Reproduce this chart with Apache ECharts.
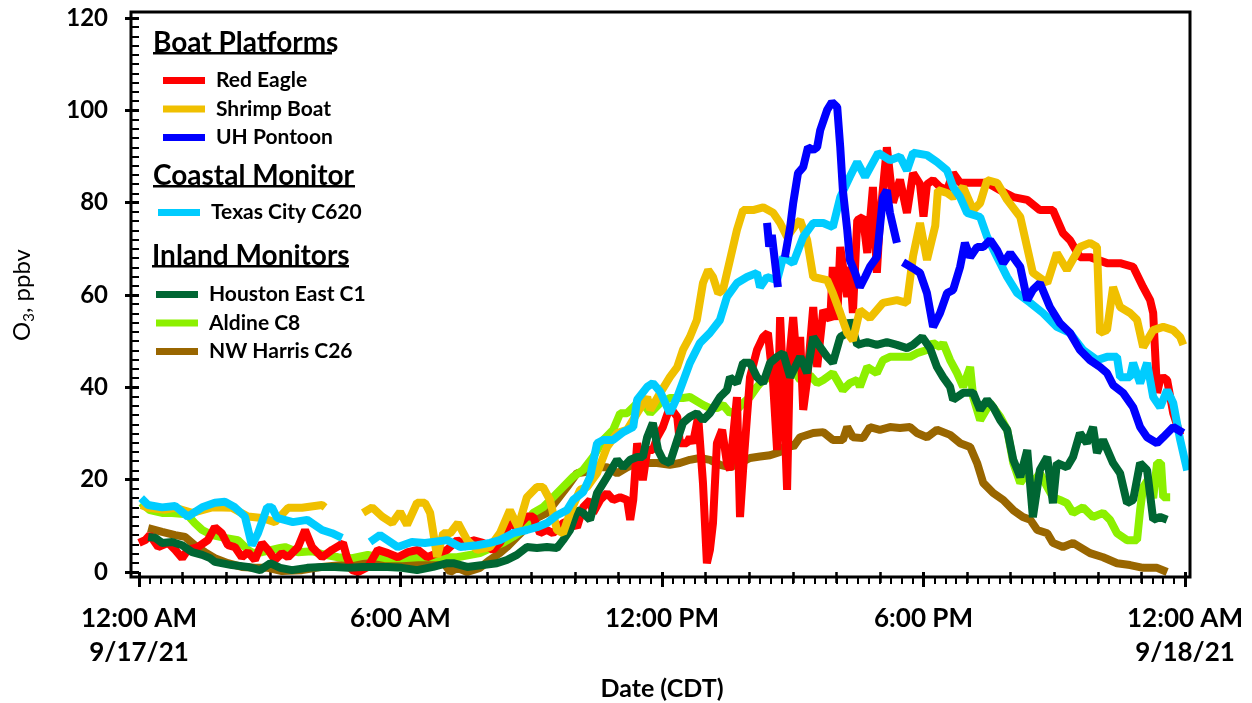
<!DOCTYPE html>
<html><head><meta charset="utf-8">
<script src="https://cdn.jsdelivr.net/npm/echarts@6/dist/echarts.min.js"></script>
<style>html,body{margin:0;padding:0;background:#fff}#chart{width:1252px;height:703px}</style>
</head><body><div id="chart"></div>
<script>
// x: hours after 12:00 AM 9/17/21 (CDT), y: O3 ppbv
const xTickLabels = ['12:00 AM\n9/17/21', '6:00 AM', '12:00 PM', '6:00 PM', '12:00 AM\n9/18/21'];
const groupTitles = ['Boat Platforms', 'Coastal Monitor', 'Inland Monitors'];
const boatNames = ['Red Eagle', 'Shrimp Boat', 'UH Pontoon'];
const coastalNames = ['Texas City C620'];
const inlandNames = ['Houston East C1', 'Aldine C8', 'NW Harris C26'];

const redEagle = [[0.0,6.3],[0.14,6.9],[0.25,8.0],[0.44,5.4],[0.67,6.3],[0.83,4.8],[0.99,3.0],[1.12,4.8],[1.35,5.4],[1.58,6.9],[1.74,9.7],[1.9,8.4],[2.04,5.8],[2.2,5.4],[2.36,3.2],[2.5,4.3],[2.66,2.6],[2.82,6.3],[2.96,4.8],[3.12,2.6],[3.28,4.1],[3.42,3.2],[3.65,5.4],[3.81,9.1],[3.97,5.4],[4.2,3.2],[4.43,4.8],[4.61,5.8],[4.68,6.3],[4.77,3.2],[4.89,0.4],[5.03,0.0],[5.25,1.1],[5.48,4.8],[5.71,4.1],[5.94,3.2],[6.17,4.3],[6.4,4.8],[6.61,3.2],[6.84,4.1],[7.07,4.8],[7.3,6.9],[7.53,5.4],[7.66,6.9],[7.89,6.3],[8.12,4.8],[8.28,6.3],[8.51,10.6],[8.67,9.7],[8.9,12.0],[9.04,12.0],[9.2,8.4],[9.36,9.1],[9.5,8.4],[9.73,10.6],[9.89,11.3],[10.05,9.7],[10.19,14.0],[10.35,15.6],[10.42,12.8],[10.58,15.6],[10.74,17.1],[10.88,15.6],[11.04,16.2],[11.2,15.6],[11.27,11.3],[11.34,15.6],[11.43,27.9],[11.56,19.9],[11.66,26.4],[11.79,26.4],[11.89,29.2],[12.02,31.4],[12.18,35.7],[12.35,33.6],[12.41,27.9],[12.57,27.9],[12.64,29.2],[12.71,27.9],[12.83,33.6],[12.94,19.3],[13.03,1.9],[13.1,4.8],[13.17,10.6],[13.26,27.9],[13.38,30.8],[13.49,23.6],[13.56,22.1],[13.63,29.2],[13.72,37.9],[13.79,11.9],[13.86,22.1],[13.95,33.6],[14.02,42.2],[14.18,48.1],[14.32,50.9],[14.43,51.8],[14.55,40.9],[14.64,26.4],[14.71,55.2],[14.78,40.9],[14.87,17.8],[14.94,48.1],[15.01,55.2],[15.1,44.4],[15.17,50.9],[15.24,35.1],[15.33,41.6],[15.47,57.4],[15.56,44.4],[15.7,56.7],[15.86,54.6],[15.92,66.1],[16.02,54.6],[16.09,70.4],[16.25,59.6],[16.31,66.1],[16.38,56.1],[16.48,76.2],[16.61,76.9],[16.71,69.1],[16.84,83.4],[16.93,64.8],[17.0,76.2],[17.16,92.0],[17.3,80.0],[17.46,85.0],[17.62,77.8],[17.76,86.4],[17.92,84.0],[18.0,77.0],[18.08,84.0],[18.22,84.9],[18.38,83.4],[18.54,82.7],[18.68,86.4],[18.84,84.3],[19.14,84.3],[19.46,84.3],[19.76,82.7],[20.06,81.2],[20.38,80.6],[20.67,78.4],[20.97,78.4],[21.2,73.4],[21.36,71.9],[21.59,68.2],[21.82,68.2],[22.21,66.9],[22.51,66.9],[22.81,66.1],[23.04,61.7],[23.2,58.9],[23.27,56.1],[23.36,38.8],[23.43,41.6],[23.5,42.2],[23.59,41.6],[23.73,34.4],[23.89,29.7]];

const shrimpBoat = [[0.05,14.5],[0.21,13.9],[0.6,13.5],[0.83,13.9],[1.22,12.8],[1.68,14.0],[2.13,13.9],[2.5,12.0],[2.82,11.7],[3.12,10.8],[3.42,13.9],[3.74,13.9],[4.2,14.5],[4.27,14.0],[4.3,null],[5.14,12.8],[5.35,14.0],[5.58,12.0],[5.81,10.6],[5.99,13.0],[6.15,10.2],[6.38,15.0],[6.56,15.0],[6.68,12.8],[6.84,3.3],[6.98,8.4],[7.14,8.4],[7.32,10.6],[7.53,6.9],[7.76,4.8],[8.05,5.4],[8.28,8.4],[8.51,13.4],[8.7,9.7],[8.9,16.2],[9.13,18.4],[9.27,18.4],[9.43,15.6],[9.59,9.1],[9.73,8.4],[9.89,12.8],[10.12,17.8],[10.28,18.4],[10.51,21.4],[10.74,27.1],[10.97,30.1],[11.2,30.8],[11.43,34.4],[11.66,37.9],[11.73,35.1],[11.96,38.8],[12.18,42.2],[12.35,44.4],[12.48,48.1],[12.64,50.9],[12.8,54.6],[12.94,62.6],[13.06,65.4],[13.17,63.9],[13.29,60.4],[13.4,61.1],[13.56,67.6],[13.72,74.1],[13.86,78.4],[14.09,78.4],[14.32,79.0],[14.55,77.8],[14.71,75.6],[14.87,72.6],[15.1,75.6],[15.17,76.2],[15.33,71.9],[15.47,63.9],[15.79,63.2],[15.92,60.4],[16.09,56.1],[16.25,51.8],[16.38,50.2],[16.54,56.7],[16.77,55.0],[17.07,58.3],[17.39,58.9],[17.62,58.3],[17.76,68.4],[17.92,75.6],[18.08,67.6],[18.27,75.0],[18.33,82.7],[18.54,82.1],[18.68,81.2],[18.91,83.4],[19.14,78.4],[19.3,79.9],[19.46,84.9],[19.69,84.3],[19.92,80.6],[20.22,76.9],[20.51,64.8],[20.84,62.6],[21.06,69.1],[21.29,65.4],[21.59,70.4],[21.82,71.3],[21.98,70.4],[22.05,51.8],[22.21,52.4],[22.35,61.7],[22.51,57.4],[22.74,56.1],[22.9,54.6],[23.04,48.7],[23.27,52.4],[23.5,53.1],[23.73,52.4],[23.89,50.9],[23.96,49.2]];

const uhPontoon = [[14.41,75.6],[14.46,70.5],[14.52,73.0],[14.66,61.7],[14.74,null],[14.82,68.2],[14.94,74.7],[15.01,79.9],[15.12,86.4],[15.24,87.7],[15.35,92.0],[15.47,91.4],[15.56,92.0],[15.63,95.7],[15.79,100.1],[15.9,101.8],[16.02,100.7],[16.09,92.0],[16.15,82.7],[16.25,74.1],[16.31,67.6],[16.43,64.8],[16.54,61.7],[16.66,63.9],[16.77,66.1],[16.93,68.2],[17.0,74.7],[17.07,81.2],[17.16,82.7],[17.23,77.8],[17.39,71.3],[17.46,null],[17.53,67.1],[17.76,65.8],[17.92,64.8],[18.08,60.4],[18.22,53.1],[18.38,56.1],[18.54,60.4],[18.68,61.1],[18.84,66.1],[18.95,71.3],[19.07,68.2],[19.23,70.4],[19.37,70.4],[19.53,71.9],[19.69,69.7],[19.83,66.9],[19.99,69.1],[20.22,66.1],[20.38,58.9],[20.51,61.1],[20.67,62.6],[20.9,57.4],[21.13,53.9],[21.36,51.8],[21.59,48.1],[21.82,45.9],[22.05,44.4],[22.21,43.1],[22.35,40.5],[22.58,38.8],[22.81,35.7],[22.97,31.4],[23.13,29.2],[23.36,27.9],[23.5,29.2],[23.73,31.4],[23.96,30.1]];

const texasCity = [[0.05,16.0],[0.21,14.5],[0.53,14.0],[0.83,14.3],[1.12,12.0],[1.45,14.0],[1.74,15.0],[1.97,15.2],[2.2,14.0],[2.43,12.0],[2.59,5.8],[2.73,8.4],[2.94,14.0],[3.05,14.0],[3.17,11.7],[3.53,10.8],[3.86,11.3],[4.2,9.1],[4.43,8.4],[4.66,7.4],[4.9,null],[5.3,6.5],[5.53,8.0],[5.94,5.4],[6.26,6.5],[6.56,6.3],[7.07,6.9],[7.37,5.4],[7.76,5.8],[8.05,6.3],[8.28,6.9],[8.58,8.4],[8.9,9.1],[9.13,9.7],[9.36,10.6],[9.59,12.3],[9.82,13.4],[9.96,15.6],[10.19,17.3],[10.35,20.6],[10.51,27.9],[10.65,28.6],[10.88,28.6],[11.11,30.3],[11.34,31.4],[11.43,37.3],[11.66,40.1],[11.79,40.9],[11.96,39.0],[12.18,34.4],[12.35,37.9],[12.64,45.3],[12.87,49.6],[13.1,51.8],[13.33,54.6],[13.49,59.6],[13.72,62.6],[13.95,63.9],[14.18,64.8],[14.25,61.7],[14.41,63.9],[14.64,63.2],[14.78,68.2],[15.01,66.9],[15.24,72.6],[15.47,75.6],[15.7,75.6],[15.92,74.7],[16.09,81.2],[16.31,85.6],[16.48,88.8],[16.66,85.6],[16.96,90.8],[17.23,89.2],[17.46,90.0],[17.62,87.0],[17.76,90.8],[18.08,90.3],[18.31,88.8],[18.54,87.0],[18.68,83.4],[18.84,81.2],[19.0,77.8],[19.3,76.9],[19.46,72.6],[19.69,68.2],[19.92,63.9],[20.15,60.4],[20.45,58.3],[20.74,56.1],[21.06,53.1],[21.36,51.8],[21.66,48.1],[21.98,45.9],[22.21,46.6],[22.44,46.6],[22.51,42.2],[22.74,42.2],[22.81,45.3],[22.97,40.9],[23.13,45.3],[23.27,37.9],[23.43,35.7],[23.59,39.4],[23.73,36.6],[23.89,28.6],[24.05,22.0]];

const houstonEast = [[0.21,7.6],[0.37,7.4],[0.53,6.3],[0.76,6.5],[0.99,5.8],[1.22,4.3],[1.45,3.7],[1.63,3.0],[1.74,2.2],[2.13,1.5],[2.5,1.1],[2.78,0.4],[3.01,1.9],[3.24,0.9],[3.51,0.4],[3.86,0.9],[4.2,1.1],[4.5,1.1],[4.8,0.9],[5.12,1.1],[5.42,1.1],[5.71,1.1],[6.03,0.9],[6.38,0.4],[6.75,1.1],[7.07,1.9],[7.21,1.9],[7.53,1.1],[7.89,1.5],[8.21,1.9],[8.44,2.6],[8.67,3.7],[8.9,5.4],[9.13,5.2],[9.36,5.4],[9.59,5.2],[9.73,6.9],[9.89,9.1],[10.05,13.4],[10.19,12.8],[10.35,11.3],[10.51,17.1],[10.74,20.6],[10.97,24.3],[11.11,22.7],[11.27,24.3],[11.43,24.9],[11.56,24.9],[11.66,29.2],[11.79,32.3],[11.91,26.4],[12.02,24.3],[12.18,23.6],[12.35,28.6],[12.48,32.3],[12.64,33.6],[12.8,34.4],[12.94,32.9],[13.1,34.4],[13.33,37.9],[13.49,39.4],[13.56,42.2],[13.72,40.9],[13.86,45.3],[14.02,45.3],[14.18,42.2],[14.32,40.9],[14.48,45.3],[14.64,46.6],[14.78,47.4],[14.94,42.2],[15.17,46.6],[15.33,43.1],[15.47,50.9],[15.63,48.7],[15.79,46.6],[15.92,45.3],[16.09,50.9],[16.25,51.8],[16.31,54.6],[16.48,49.2],[16.71,49.8],[16.93,49.2],[17.16,49.8],[17.39,49.2],[17.62,48.5],[17.76,49.2],[17.97,50.9],[18.15,48.5],[18.31,44.4],[18.45,42.2],[18.61,40.1],[18.68,37.3],[18.91,38.8],[19.14,38.8],[19.3,35.1],[19.46,37.3],[19.6,35.7],[19.76,32.9],[19.92,30.8],[20.06,24.3],[20.22,20.6],[20.38,26.4],[20.51,11.9],[20.67,22.1],[20.84,24.9],[20.97,14.9],[21.06,23.6],[21.29,22.7],[21.43,24.9],[21.59,30.1],[21.75,27.9],[21.89,31.4],[21.98,25.8],[22.12,28.6],[22.35,23.6],[22.51,21.4],[22.67,14.9],[22.81,15.6],[22.97,23.6],[23.13,22.1],[23.27,11.3],[23.43,11.9],[23.59,11.3]];

const aldine = [[0.05,15.0],[0.25,13.4],[0.53,12.8],[0.76,12.8],[1.1,12.5],[1.28,10.6],[1.45,9.1],[1.68,8.0],[1.97,7.4],[2.27,6.9],[2.5,4.8],[2.62,4.1],[2.82,4.3],[3.24,5.2],[3.35,5.4],[3.65,4.3],[3.97,4.5],[4.27,3.7],[4.57,3.2],[4.89,3.0],[5.25,3.7],[5.64,3.0],[6.03,3.0],[6.4,3.2],[6.9,3.2],[7.3,3.2],[7.82,4.1],[8.12,5.4],[8.35,6.3],[8.58,7.6],[8.81,9.1],[9.04,12.8],[9.27,14.0],[9.5,16.2],[9.73,18.4],[9.96,20.6],[10.19,22.1],[10.42,24.9],[10.65,28.6],[10.88,30.8],[11.04,34.4],[11.2,34.4],[11.34,35.7],[11.5,37.3],[11.73,34.4],[11.96,36.6],[12.18,37.7],[12.48,37.7],[12.64,37.9],[12.94,36.2],[13.1,35.5],[13.26,35.5],[13.4,36.2],[13.56,34.4],[13.72,35.1],[13.86,36.6],[14.02,37.9],[14.18,40.1],[14.32,41.6],[14.48,42.2],[14.64,40.9],[14.78,42.2],[15.01,43.8],[15.17,41.6],[15.4,42.6],[15.56,40.9],[15.7,41.6],[15.92,43.1],[16.15,39.4],[16.31,40.9],[16.48,41.6],[16.54,40.1],[16.71,44.4],[16.93,43.1],[17.07,45.9],[17.23,46.6],[17.46,46.6],[17.69,46.6],[17.85,47.4],[18.08,48.1],[18.22,49.6],[18.38,48.7],[18.45,49.6],[18.61,45.9],[18.77,43.1],[18.91,40.1],[19.07,44.4],[19.14,37.9],[19.3,32.9],[19.53,36.6],[19.76,33.6],[19.92,30.8],[20.06,23.6],[20.22,19.3],[20.38,21.4],[20.51,19.3],[20.67,21.4],[20.84,18.4],[20.97,16.2],[21.13,15.6],[21.29,14.9],[21.43,12.8],[21.66,14.0],[21.89,11.9],[22.12,12.8],[22.28,11.3],[22.44,8.4],[22.67,6.9],[22.9,6.9],[22.97,13.4],[23.04,18.4],[23.15,20.0],[23.27,16.0],[23.36,23.6],[23.45,23.6],[23.5,16.2],[23.66,16.2]];

const nwHarris = [[0.21,9.5],[0.53,8.7],[0.83,8.0],[1.06,7.6],[1.28,5.8],[1.51,4.3],[1.74,3.0],[2.04,1.9],[2.36,1.1],[2.66,0.9],[2.96,0.9],[3.28,0.2],[3.74,0.4],[4.2,1.1],[4.66,1.5],[5.12,1.9],[5.58,1.9],[6.03,1.9],[6.4,1.9],[6.75,1.5],[7.0,1.9],[7.14,0.0],[7.3,0.9],[7.53,0.0],[7.82,0.9],[8.05,2.6],[8.28,4.1],[8.44,5.4],[8.67,7.6],[8.9,9.7],[9.13,11.7],[9.36,12.8],[9.59,15.6],[9.82,18.4],[10.05,21.4],[10.28,21.7],[10.51,22.7],[10.74,22.7],[10.97,21.4],[11.2,22.7],[11.43,23.6],[11.66,23.6],[11.89,23.6],[12.18,23.2],[12.41,23.6],[12.64,24.3],[12.87,24.7],[13.1,24.3],[13.33,23.2],[13.56,22.7],[13.79,23.6],[14.02,24.7],[14.25,25.0],[14.48,25.3],[14.71,26.0],[14.87,27.9],[15.01,27.1],[15.17,29.2],[15.47,30.1],[15.7,30.3],[15.92,28.6],[16.15,28.6],[16.25,31.4],[16.38,29.2],[16.61,29.0],[16.77,31.4],[17.0,30.8],[17.23,31.4],[17.46,31.2],[17.69,31.4],[17.85,30.1],[18.08,29.2],[18.31,30.8],[18.61,29.7],[18.84,27.9],[19.07,27.1],[19.23,23.6],[19.37,19.3],[19.6,17.1],[19.83,15.6],[20.06,13.4],[20.28,11.9],[20.45,11.3],[20.61,9.1],[20.84,8.4],[20.97,6.3],[21.2,5.4],[21.43,6.3],[21.59,5.4],[21.82,4.1],[22.12,3.2],[22.44,1.9],[22.74,1.5],[23.04,0.9],[23.36,0.9],[23.59,0.0]];

const FONT = 'Lato, "DejaVu Sans", sans-serif';
const chart = echarts.init(document.getElementById('chart'), null, {renderer: 'canvas'});

const seriesDefs = [
  {name: boatNames[0], data: redEagle, color: '#FF0000', z: 4.5},
  {name: boatNames[1], data: shrimpBoat, color: '#F0C000', z: 6},
  {name: boatNames[2], data: uhPontoon, color: '#0000FF', z: 8},
  {name: coastalNames[0], data: texasCity, color: '#00CCFF', z: 7},
  {name: inlandNames[0], data: houstonEast, color: '#006633', z: 5},
  {name: inlandNames[1], data: aldine, color: '#8CF000', z: 4},
  {name: inlandNames[2], data: nwHarris, color: '#996600', z: 3}
];

const legendCommon = {
  orient: 'vertical', icon: 'rect', itemWidth: 42, itemHeight: 7, itemGap: 7.5,
  padding: 0, selectedMode: false,
  itemStyle: {borderWidth: 0},
  textStyle: {fontFamily: FONT, fontWeight: 'bold', fontSize: 21, lineHeight: 20, color: '#000', padding: [0, 0, 0, 6]}
};

function header(text, left, top, width) {
  return [
    {type: 'text', left: left, top: top, style: {text: text, font: 'bold 28px ' + FONT, fill: '#000'}},
    {type: 'rect', shape: {x: left, y: top + 23, width: width, height: 2.5}, style: {fill: '#000'}}
  ];
}

const option = {
  animation: false,
  backgroundColor: '#fff',
  grid: {left: 139, right: 67, top: 18, bottom: 131, containLabel: false, outerBoundsMode: 'none'},
  xAxis: [{
    type: 'value', min: 0, max: 24, interval: 6, offset: 5,
    axisLine: {show: false},
    axisTick: {show: true, length: 15, lineStyle: {color: '#000', width: 3}},
    minorTick: {show: true, splitNumber: 6, length: 11, lineStyle: {color: '#000', width: 2.5}},
    splitLine: {show: false}, minorSplitLine: {show: false},
    axisLabel: {
      margin: 25, color: '#000', fontFamily: FONT, fontWeight: 'bold', fontSize: 26, lineHeight: 34,
      formatter: function (v) { return xTickLabels[Math.round(v / 6)]; }
    },
    name: 'Date (CDT)', nameLocation: 'middle', nameGap: 99,
    nameTextStyle: {color: '#000', fontFamily: FONT, fontWeight: 'bold', fontSize: 25}
  }, {
    type: 'value', min: 0, max: 24, interval: 0.25, offset: 5, position: 'bottom',
    axisLine: {show: false},
    axisTick: {show: true, length: 7, lineStyle: {color: '#000', width: 2}},
    axisLabel: {show: false}, splitLine: {show: false}
  }],
  yAxis: {
    type: 'value', min: 0, max: 120, interval: 20, offset: 8,
    axisLine: {show: false},
    axisTick: {show: true, length: 14, lineStyle: {color: '#000', width: 3}},
    minorTick: {show: true, splitNumber: 10, length: 7, lineStyle: {color: '#000', width: 2}},
    splitLine: {show: false}, minorSplitLine: {show: false},
    axisLabel: {margin: 23, color: '#000', fontFamily: FONT, fontWeight: 'bold', fontSize: 24},
    name: 'O{s|3}, ppbv', nameLocation: 'middle', nameRotate: 90, nameGap: 94,
    nameTextStyle: {
      color: '#000', fontFamily: FONT, fontSize: 24, lineHeight: 30,
      rich: {s: {fontFamily: FONT, fontSize: 15, lineHeight: 18, verticalAlign: 'bottom', color: '#000'}}
    }
  },
  legend: [
    Object.assign({}, legendCommon, {data: boatNames, left: 163, top: 70}),
    Object.assign({}, legendCommon, {data: coastalNames, left: 158, top: 202}),
    Object.assign({}, legendCommon, {data: inlandNames, left: 156, top: 284})
  ],
  graphic: [].concat(
    header(groupTitles[0], 153, 29, 179),
    header(groupTitles[1], 153, 162, 202),
    header(groupTitles[2], 152, 242, 197),
    [{type: 'rect', shape: {x: 131, y: 12, width: 1059, height: 565},
      style: {fill: 'none', stroke: '#000', lineWidth: 3}, z: 100}]
  ),
  series: seriesDefs.map(function (s) {
    return {
      name: s.name, type: 'line', data: s.data, xAxisIndex: 0, yAxisIndex: 0,
      showSymbol: false, symbol: 'none', clip: false, connectNulls: false, z: s.z,
      lineStyle: {color: s.color, width: 8},
      itemStyle: {color: s.color},
      emphasis: {disabled: true}
    };
  })
};
chart.setOption(option);
</script>
</body></html>
